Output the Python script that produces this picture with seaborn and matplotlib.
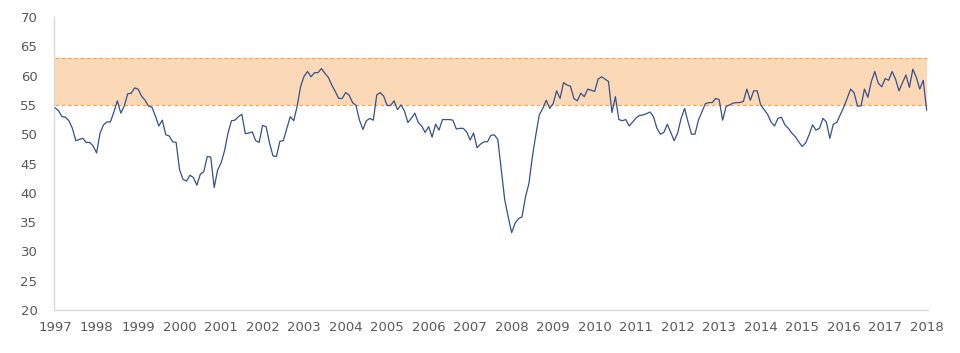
import matplotlib
matplotlib.use("Agg")
import matplotlib.pyplot as plt
import seaborn as sns
import pandas as pd
import numpy as np

# Monthly index values, Jan 1997 .. Jan 2018
values_1997 = [54.5, 54.0, 53.0, 52.9, 52.3, 51.0, 48.9, 49.1, 49.3, 48.6, 48.6, 48.0]
values_1998 = [46.8, 50.2, 51.6, 52.1, 52.1, 53.8, 55.7, 53.6, 54.8, 56.9, 57.0, 57.9]
values_1999 = [57.7, 56.5, 55.8, 54.8, 54.6, 53.1, 51.4, 52.4, 49.9, 49.7, 48.7, 48.6]
values_2000 = [43.9, 42.3, 42.0, 43.0, 42.6, 41.3, 43.2, 43.6, 46.2, 46.1, 40.9, 43.9]
values_2001 = [45.1, 47.2, 50.2, 52.3, 52.4, 53.0, 53.4, 50.1, 50.2, 50.4, 48.9, 48.6]
values_2002 = [51.5, 51.3, 48.5, 46.3, 46.2, 48.8, 48.9, 51.0, 53.0, 52.3, 54.8, 58.2]
values_2003 = [59.9, 60.7, 59.8, 60.5, 60.5, 61.2, 60.4, 59.7, 58.4, 57.3, 56.1, 56.1]
values_2004 = [57.1, 56.7, 55.4, 54.9, 52.4, 50.8, 52.3, 52.7, 52.4, 56.7, 57.1, 56.5]
values_2005 = [54.9, 54.9, 55.7, 54.2, 55.0, 54.0, 52.0, 52.7, 53.6, 52.0, 51.4, 50.3]
values_2006 = [51.3, 49.5, 51.7, 50.7, 52.5, 52.5, 52.5, 52.4, 50.9, 51.0, 51.0, 50.4]
values_2007 = [49.0, 50.2, 47.7, 48.3, 48.7, 48.7, 49.8, 49.9, 49.1, 43.9, 38.8, 35.9]
values_2008 = [33.2, 34.8, 35.6, 35.9, 39.3, 41.6, 46.2, 49.9, 53.3, 54.4, 55.8, 54.4]
values_2009 = [55.2, 57.4, 56.1, 58.8, 58.4, 58.2, 56.1, 55.7, 57.0, 56.4, 57.7, 57.5]
values_2010 = [57.3, 59.4, 59.8, 59.4, 59.0, 53.7, 56.4, 52.5, 52.3, 52.5, 51.4, 52.1]
values_2011 = [52.8, 53.2, 53.3, 53.5, 53.8, 53.0, 51.0, 50.0, 50.3, 51.7, 50.3, 48.9]
values_2012 = [50.2, 52.7, 54.4, 52.1, 50.0, 50.0, 52.4, 53.8, 55.2, 55.4, 55.4, 56.1]
values_2013 = [55.9, 52.4, 54.7, 55.0, 55.3, 55.4, 55.4, 55.6, 57.7, 55.8, 57.4, 57.4]
values_2014 = [55.0, 54.2, 53.4, 52.1, 51.4, 52.7, 52.9, 51.6, 51.0, 50.2, 49.6, 48.7]
values_2015 = [47.9, 48.5, 49.9, 51.6, 50.7, 51.0, 52.7, 52.1, 49.3, 51.7, 52.0, 53.3]
values_2016 = [54.6, 56.1, 57.7, 57.1, 54.8, 54.8, 57.7, 56.3, 59.0, 60.7, 58.7, 58.1]
values_2017 = [59.5, 59.2, 60.7, 59.4, 57.4, 58.8, 60.1, 58.0, 61.1, 59.7, 57.7, 59.2]
values_2018 = [54.1]

series = (values_1997 + values_1998 + values_1999 + values_2000 + values_2001 +
          values_2002 + values_2003 + values_2004 + values_2005 + values_2006 +
          values_2007 + values_2008 + values_2009 + values_2010 + values_2011 +
          values_2012 + values_2013 + values_2014 + values_2015 + values_2016 +
          values_2017 + values_2018)

band_low = 55
band_high = 63
year_labels = [str(y) for y in range(1997, 2019)]
y_ticks = list(range(20, 75, 5))

df = pd.DataFrame({"month": np.arange(len(series)), "value": series})

sns.set_theme(style="white")
plt.rcParams['font.family'] = ['DejaVu Sans']

fig = plt.figure(figsize=(9.6, 3.53), dpi=100)
ax = fig.add_axes([0.0563, 0.1218, 0.9108, 0.8300])

n = len(series) - 1
ax.fill_between([0, n], [band_low, band_low], [band_high, band_high],
                color="#FCD9B6", linewidth=0, zorder=1)
ax.plot([0, n], [band_low, band_low], color="#F7A553", lw=0.9,
        ls=(0, (3, 2)), zorder=2)
ax.plot([0, n], [band_high, band_high], color="#F7A553", lw=0.9,
        ls=(0, (3, 2)), zorder=2)

sns.lineplot(data=df, x="month", y="value", ax=ax, color="#34508F",
             linewidth=0.9, zorder=3)

ax.set_xlim(-0.3, n + 0.5)
ax.set_ylim(20, 70)
ax.set_xticks(np.arange(0, n + 1, 12))
ax.set_xticklabels(year_labels)
ax.set_yticks(y_ticks)
ax.set_yticklabels([str(v) for v in y_ticks])
ax.set_xlabel("")
ax.set_ylabel("")

for side in ["top", "right"]:
    ax.spines[side].set_visible(False)
for side in ["left", "bottom"]:
    ax.spines[side].set_color("#D9D9D9")
    ax.spines[side].set_linewidth(1.0)

ax.tick_params(axis="both", length=0, labelsize=9.5, colors="#595959")
ax.tick_params(axis="x", pad=8)
ax.tick_params(axis="y", pad=12)
ax.grid(False)

fig.savefig("out.png", dpi=100)
